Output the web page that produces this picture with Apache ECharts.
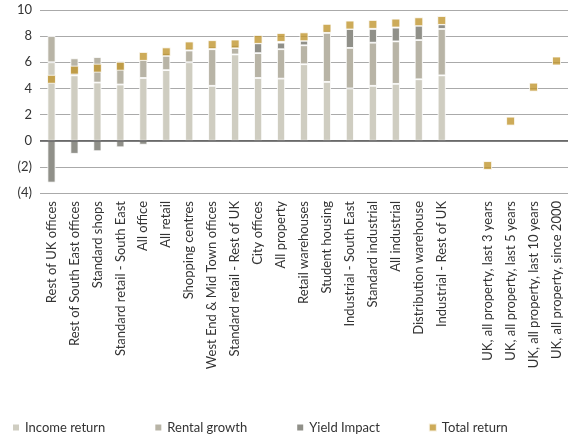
<!DOCTYPE html><html><head><meta charset="utf-8">
<script src="https://cdn.jsdelivr.net/npm/echarts@6/dist/echarts.min.js"></script>
<style>html,body{margin:0;background:#fff}#c{width:580px;height:441px}</style></head><body><div id="c"></div>
<script>
const categories=["Rest of UK offices","Rest of South East offices","Standard shops","Standard retail - South East","All office","All retail","Shopping centres","West End & Mid Town offices","Standard retail - Rest of UK","City offices","All property","Retail warehouses","Student housing","Industrial - South East","Standard industrial","All industrial","Distribution warehouse","Industrial - Rest of UK","","UK, all property, last 3 years","UK, all property, last 5 years","UK, all property, last 10 years","UK, all property, since 2000"];
const incomeReturn=[6.0,5.0,4.45,4.3,4.8,5.4,6.0,4.2,6.6,4.8,4.75,5.85,4.5,4.0,4.2,4.35,4.7,5.0,null,null,null,null,null];
const rentalGrowth=[2.0,1.3,1.95,1.8,1.4,1.1,0.9,2.8,0.5,1.9,2.25,1.45,3.75,3.1,3.3,3.25,3.0,3.55,null,null,null,null,null];
const yieldImpact=[-3.2,-1.0,-0.8,-0.5,-0.3,0.2,0.2,0.2,0.2,0.75,0.5,0.35,0.2,1.45,1.05,1.05,1.1,0.35,null,null,null,null,null];
const totalReturn=[4.7,5.4,5.55,5.7,6.45,6.8,7.25,7.35,7.4,7.75,7.9,7.95,8.6,8.85,8.9,9.0,9.1,9.2,null,-1.9,1.5,4.1,6.1];
const F='Lato, "Open Sans", sans-serif';
const bar=(name,data,color)=>({name,type:'bar',stack:'a',data,barWidth:8,itemStyle:{color,borderColor:'#fff',borderWidth:0.8}});
echarts.init(document.getElementById('c')).setOption({
animation:false,
textStyle:{fontFamily:F},
legend:{bottom:2,left:6,itemGap:48,itemWidth:8,itemHeight:8,textStyle:{fontSize:13,color:'#333',fontFamily:F},
 data:[{name:'Income return',icon:'rect'},{name:'Rental growth',icon:'rect'},{name:'Yield Impact',icon:'rect'},{name:'Total return',icon:'rect'}]},
grid:{left:40,right:12,top:10,bottom:248},
xAxis:{type:'category',data:categories,axisTick:{show:false},axisLine:{show:false},
 axisLabel:{rotate:90,interval:0,fontSize:13,color:'#333',fontFamily:F,margin:8}},
yAxis:{type:'value',min:-4,max:10,interval:2,
 axisLabel:{fontSize:13,color:'#333',fontFamily:F,formatter:v=>v<0?'('+(-v)+')':v},
 splitLine:{lineStyle:{color:'#aaa'}}},
series:[bar('Income return',incomeReturn,'#cfcdc1'),bar('Rental growth',rentalGrowth,'#b8b4a6'),bar('Yield Impact',yieldImpact,'#909089'),
 {name:'Total return',type:'scatter',data:totalReturn,symbol:'rect',symbolSize:8,z:5,itemStyle:{color:'#c0962f',borderColor:'#fff',borderWidth:1},
  markLine:{silent:true,symbol:'none',label:{show:false},lineStyle:{color:'#555',type:'solid',width:1.5},data:[{yAxis:0}]}}]
});
</script></body></html>
